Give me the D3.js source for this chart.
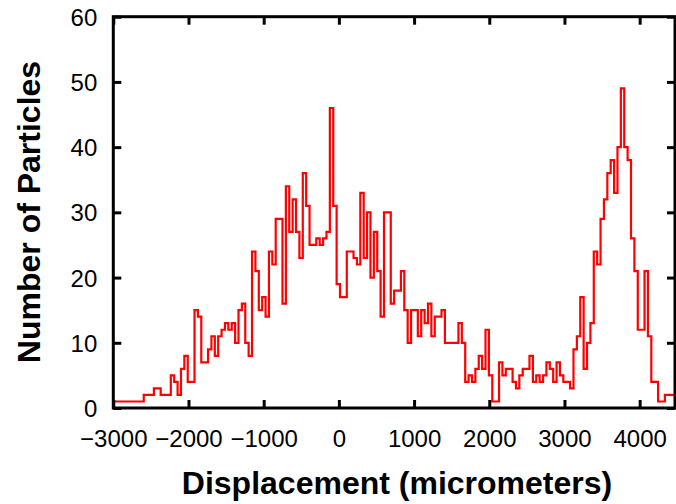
<!DOCTYPE html>
<html><head><meta charset="utf-8">
<script src="https://cdn.jsdelivr.net/npm/d3@7/dist/d3.min.js"></script>
<style>
body{margin:0;background:#fff;}
svg{display:block;}
.tick text{font-family:"Liberation Sans Narrow","Liberation Sans",Arial,sans-serif;font-size:24px;fill:#000;}
.ttl{font-family:"Liberation Sans",Arial,sans-serif;font-weight:bold;font-size:32px;fill:#000;}
</style></head>
<body>
<svg id="c" width="676" height="504"></svg>
<script>
// Histogram: bins start at -3000, width 45 micrometers
const binStart = -3000;
const binWidth = 45;
const counts = [
 1,1,1,1,1,1,1,1,1, 2,2,2, 3,3, 2,2,2, 5,4,2,6,8,4,4,15,14,7,7,9,11,8,11,12,13,12,13,10,15,16,10,8,
 24,21,15,17,14,24,22,29,29,16,34,27,32,27,23,36,31,25,25,26,25,26,27,46,31,19,17,17,24,24,23,22,
 33,23,30,20,27,21,14,30,30,16,18,18,21,15,10,15,15,11,15,13,16,11,14,14,15,10,10,10,10,13,10,4,
 5,4,6,8,6,12,5,1,1,7,5,6,6,4,3,5,6,6,8,4,5,4,5,7,6,4,7,5,4,4,3,9,11,17,6,10,13,24,22,29,32,36,
 38,33,40,49,40,38,26,21,12,12,21,11,4,4,1,1,2,2,2
];
const xTicks = [-3000,-2000,-1000,0,1000,2000,3000,4000];
const yTicks = [0,10,20,30,40,50,60];
const xLabel = "Displacement (micrometers)";
const yLabel = "Number of Particles";

const svg = d3.select("#c");
const L = 113.3, R = 675, T = 16.7, B = 408;
const x = d3.scaleLinear().domain([-3000, 4470]).range([L, R]);
const y = d3.scaleLinear().domain([0, 60]).range([B, T]);

// step data
const pts = counts.map((c,i)=>[binStart + i*binWidth, c]);
pts.push([binStart + counts.length*binWidth, counts[counts.length-1]]);
const line = d3.line().x(d=>x(d[0])).y(d=>y(d[1])).curve(d3.curveStepAfter);

svg.append("defs").append("clipPath").attr("id","clip")
  .append("rect").attr("x",L).attr("y",T).attr("width",R-L).attr("height",B-T);

svg.append("path").datum(pts).attr("d",line)
  .attr("fill","none").attr("stroke","#ff0000").attr("stroke-width",2.2)
  .attr("clip-path","url(#clip)");

const fmt = d3.format("d");
function style(g){ g.select(".domain").remove(); g.selectAll(".tick line").attr("stroke","#000").attr("stroke-width",3); }

svg.append("g").attr("transform",`translate(0,${B})`)
  .call(d3.axisBottom(x).tickValues(xTicks).tickSize(-8).tickPadding(39).tickFormat(d=>fmt(d).replace("-","\u2212")))
  .call(style).call(g=>g.selectAll(".tick text").attr("dy","0"));
svg.append("g").attr("transform",`translate(0,${T})`)
  .call(d3.axisTop(x).tickValues(xTicks).tickSize(-8).tickFormat(""))
  .call(style);
svg.append("g").attr("transform",`translate(${L},0)`)
  .call(d3.axisLeft(y).tickValues(yTicks).tickSize(-8).tickPadding(16).tickFormat(fmt))
  .call(style).call(g=>g.selectAll(".tick text").attr("dy","0.36em"));
svg.append("g").attr("transform",`translate(${R},0)`)
  .call(d3.axisRight(y).tickValues(yTicks).tickSize(-8).tickFormat(""))
  .call(style);

svg.append("rect").attr("x",L).attr("y",T).attr("width",R-L).attr("height",B-T)
  .attr("fill","none").attr("stroke","#000").attr("stroke-width",3);

svg.append("text").attr("class","ttl").attr("x",397).attr("y",494)
  .attr("text-anchor","middle").text(xLabel);
svg.append("text").attr("class","ttl").attr("transform",`translate(40,212) rotate(-90)`)
  .attr("text-anchor","middle").text(yLabel);
</script>
</body></html>
